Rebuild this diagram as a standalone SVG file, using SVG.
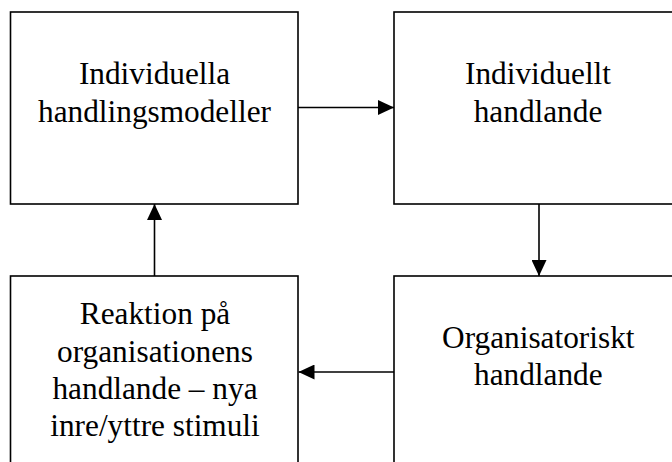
<svg xmlns="http://www.w3.org/2000/svg" width="672" height="462" viewBox="0 0 672 462">
<defs>
<marker id="ah" viewBox="0 0 16 15" refX="16" refY="7.5" markerWidth="16" markerHeight="15" markerUnits="userSpaceOnUse" orient="auto">
<path d="M0,0 L16,7.5 L0,15 Z" fill="#000"/>
</marker>
<style>
.box{fill:#fff;stroke:#000;stroke-width:1.6}
.t{font-family:"Liberation Serif","Times New Roman",serif;font-size:31.3px;fill:#000;text-anchor:middle}
.c{fill:none;stroke:#000;stroke-width:1.6;marker-end:url(#ah)}
</style>
</defs>
<rect width="672" height="462" fill="#fff"/>
<g id="n1">
<rect class="box" x="10.5" y="12" width="287.5" height="192"/>
<text class="t" x="154.5" y="83.5">Individuella</text>
<text class="t" x="154.5" y="121.5">handlingsmodeller</text>
</g>
<g id="n2">
<rect class="box" x="394" y="12" width="290" height="192"/>
<text class="t" x="538" y="83.5">Individuellt</text>
<text class="t" x="538" y="121.5">handlande</text>
</g>
<g id="n3">
<rect class="box" x="394" y="276" width="290" height="200"/>
<text class="t" x="538.3" y="348.3">Organisatoriskt</text>
<text class="t" x="538.3" y="385.3">handlande</text>
</g>
<g id="n4">
<rect class="box" x="10.5" y="276" width="287.5" height="200"/>
<text class="t" x="155" y="324.3">Reaktion på</text>
<text class="t" x="155" y="361.8">organisationens</text>
<text class="t" x="155" y="399">handlande – nya</text>
<text class="t" x="155" y="436">inre/yttre stimuli</text>
</g>
<g id="connectors">
<path class="c" d="M298,107.5 L394,107.5"/>
<path class="c" d="M539,204 L539,276"/>
<path class="c" d="M394,372 L298.5,372"/>
<path class="c" d="M154.5,276 L154.5,204"/>
</g>
</svg>
